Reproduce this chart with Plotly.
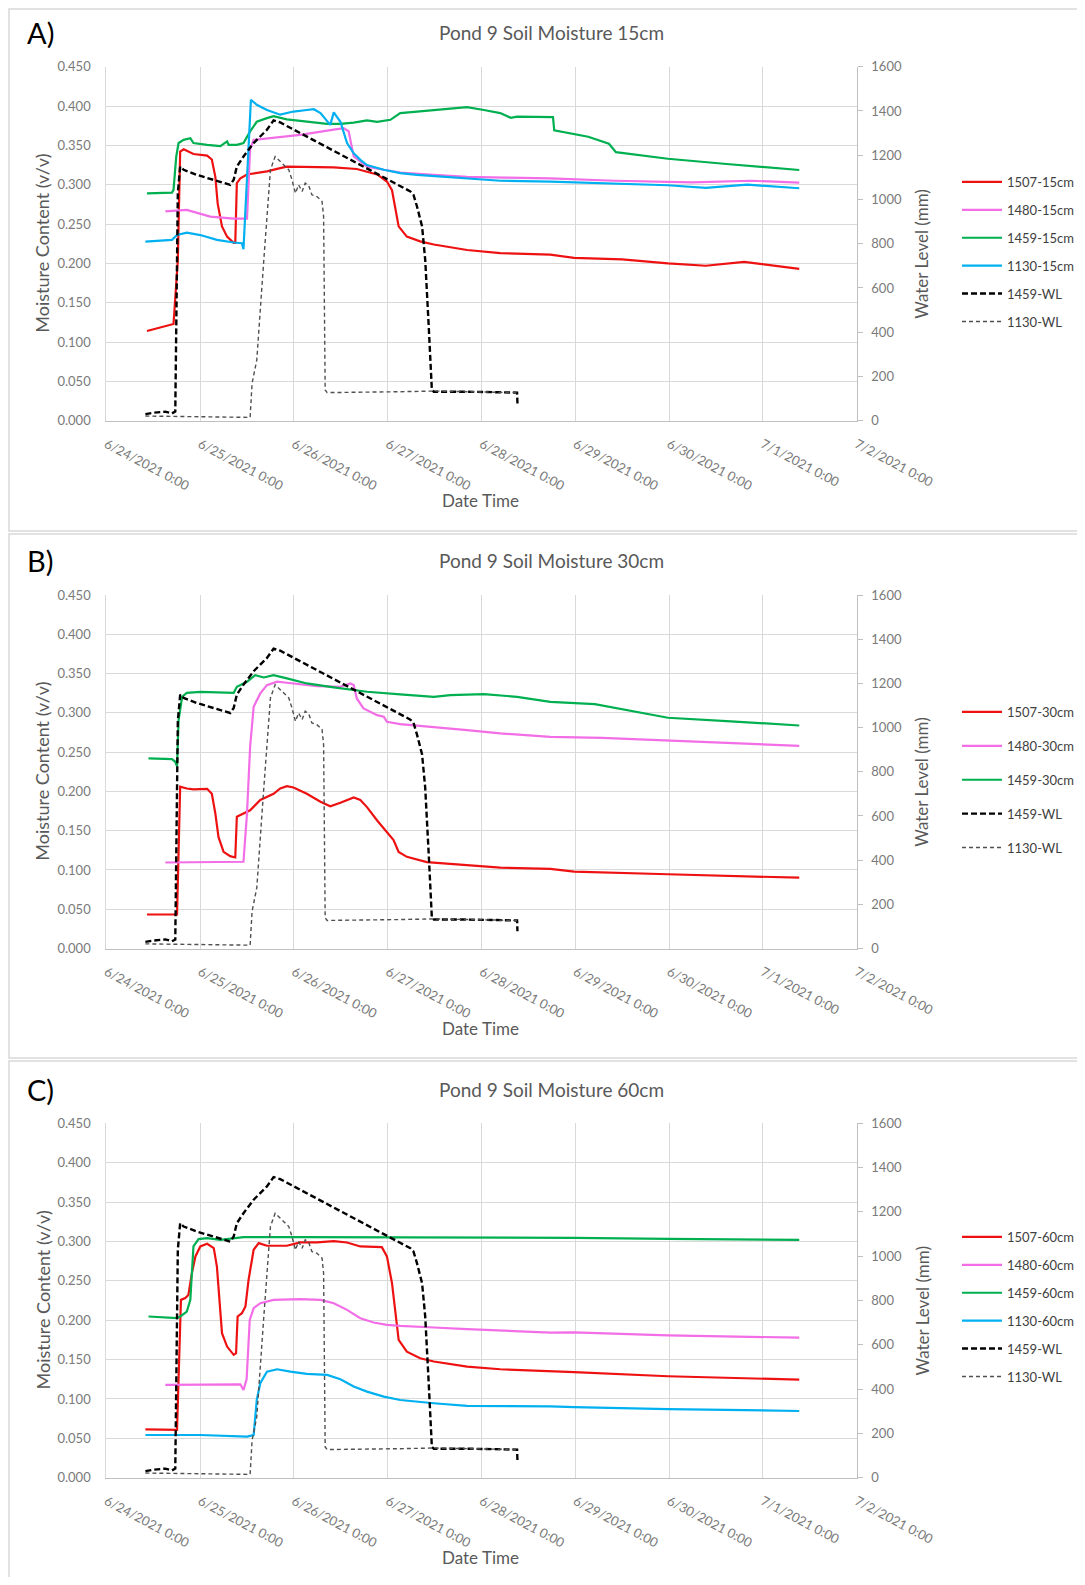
import pandas as pd
import plotly.graph_objects as go

# ---------------- data (hours since 6/24/2021 0:00, values) ----------------
START = pd.Timestamp("2021-06-24 00:00")

x_tick_dates = ["2021-06-24", "2021-06-25", "2021-06-26", "2021-06-27", "2021-06-28",
                "2021-06-29", "2021-06-30", "2021-07-01", "2021-07-02"]
x_tick_labels = ["6/24/2021 0:00", "6/25/2021 0:00", "6/26/2021 0:00", "6/27/2021 0:00",
                 "6/28/2021 0:00", "6/29/2021 0:00", "6/30/2021 0:00", "7/1/2021 0:00",
                 "7/2/2021 0:00"]
moist_ticks = [0.0, 0.05, 0.10, 0.15, 0.20, 0.25, 0.30, 0.35, 0.40, 0.45]
wl_ticks = [0, 200, 400, 600, 800, 1000, 1200, 1400, 1600]

# water levels (same in all panels)
wl1459_h = [10.0, 12.1, 15.1, 16.8, 17.65, 17.9, 18.3, 18.9, 19.8, 23.2, 27.5, 31.7, 32.6, 33.4,
            35.1, 37.7, 41.1, 42.8, 44.5, 77.8, 78.6, 79.5, 80.8, 81.6, 82.5, 83.3, 83.8, 92.3,
            105.1, 105.2]
wl1459_v = [30, 36, 41, 33, 41, 576, 1028, 1149, 1134, 1111, 1089, 1066, 1089, 1149,
            1194, 1255, 1315, 1357, 1348, 1036, 1021, 968, 878, 727, 425, 139, 131, 131,
            127, 78]
wl1130_h = [10.0, 24.05, 36.8, 37.3, 38.5, 40.3, 42.0, 43.2, 44.9, 46.7, 47.5, 48.4, 49.2, 50.1,
            50.9, 51.8, 52.6, 53.9, 55.2, 55.6, 56.0, 56.5, 75.2, 83.8, 105.1]
wl1130_v = [21, 18, 15, 169, 274, 727, 1134, 1194, 1164, 1134, 1089, 1028, 1066, 1036,
            1074, 1062, 1021, 1013, 991, 923, 139, 127, 131, 134, 127]

# 15 cm
r15_h = [10.4, 17.2, 18.3, 18.9, 19.8, 22.3, 25.8, 27.0, 27.9, 28.5, 29.6, 30.9, 32.6, 33.0, 33.4,
         34.3, 36.0, 41.1, 44.5, 46.2, 58.2, 64.1, 69.3, 71.8, 73.1, 74.0, 74.8, 76.9, 80.3, 83.8,
         92.3, 100.8, 113.6, 119.7, 132.0, 143.7, 153.4, 163.2, 168.0, 177.3]
r15_v = [0.114, 0.123, 0.204, 0.342, 0.345, 0.339, 0.337, 0.332, 0.310, 0.276, 0.247, 0.234, 0.226,
         0.226, 0.302, 0.308, 0.313, 0.317, 0.321, 0.323, 0.322, 0.320, 0.313, 0.304, 0.293, 0.268,
         0.247, 0.234, 0.228, 0.224, 0.217, 0.213, 0.211, 0.207, 0.205, 0.200, 0.197, 0.202, 0.199,
         0.193]
m15_h = [15.1, 20.6, 26.6, 32.6, 36.0, 36.8, 37.7, 49.6, 58.2, 60.7, 62.0, 63.3, 65.0, 66.7, 71.0,
         75.2, 83.8, 92.3, 102.0, 113.6, 130.0, 149.9, 165.0, 177.3]
m15_v = [0.266, 0.268, 0.2595, 0.257, 0.257, 0.345, 0.357, 0.3634, 0.370, 0.372, 0.368, 0.336,
         0.3295, 0.323, 0.319, 0.3155, 0.3126, 0.310, 0.309, 0.308, 0.305, 0.303, 0.305, 0.3027]
g15_h = [10.4, 16.8, 17.2, 17.9, 18.5, 19.8, 21.5, 22.3, 25.8, 29.2, 30.9, 31.3, 33.4, 35.1, 36.8,
         38.5, 41.1, 42.8, 46.2, 51.3, 56.5, 59.9, 63.3, 66.7, 69.3, 72.7, 75.2, 79.5, 88.0, 92.3,
         96.6, 100.8, 103.5, 105.1, 114.3, 114.6, 123.3, 128.6, 130.4, 143.7, 158.7, 177.3]
g15_v = [0.289, 0.290, 0.2935, 0.336, 0.353, 0.357, 0.359, 0.353, 0.3507, 0.349, 0.355, 0.3507,
         0.3507, 0.353, 0.3677, 0.380, 0.3846, 0.387, 0.383, 0.380, 0.3774, 0.3774, 0.379, 0.3817,
         0.380, 0.3825, 0.391, 0.393, 0.397, 0.3986, 0.395, 0.391, 0.385, 0.3866, 0.386, 0.369,
         0.361, 0.352, 0.3414, 0.333, 0.3263, 0.3187]
b15_h = [10.0, 16.8, 18.1, 20.6, 24.05, 28.3, 32.6, 34.7, 35.1, 37.0, 38.5, 41.1, 44.5, 47.9, 51.3,
         53.1, 54.8, 57.3, 58.2, 59.9, 61.6, 63.3, 65.0, 66.7, 71.0, 75.2, 79.5, 83.8, 92.3, 100.8,
         113.6, 130.0, 143.7, 153.4, 164.0, 177.3]
b15_v = [0.2277, 0.2299, 0.2362, 0.239, 0.236, 0.2299, 0.2265, 0.2256, 0.218, 0.408, 0.4016,
         0.395, 0.389, 0.393, 0.395, 0.396, 0.391, 0.376, 0.392, 0.380, 0.353, 0.340, 0.3316,
         0.325, 0.319, 0.3147, 0.3126, 0.311, 0.308, 0.305, 0.304, 0.301, 0.2993, 0.296, 0.300,
         0.2955]

# 30 cm
r30_h = [10.4, 18.1, 18.9, 20.6, 22.3, 25.8, 27.0, 27.9, 28.7, 30.0, 31.7, 33.0, 33.4, 35.1, 36.8,
         39.4, 41.1, 42.8, 44.5, 46.2, 47.9, 51.3, 54.8, 57.3, 59.9, 63.3, 65.0, 66.7, 69.3, 71.8,
         73.5, 74.8, 76.9, 82.0, 92.3, 100.8, 113.6, 119.7, 143.7, 177.3]
r30_v = [0.0433, 0.0433, 0.2059, 0.2037, 0.2025, 0.2033, 0.197, 0.172, 0.142, 0.123, 0.1176,
         0.1159, 0.1677, 0.172, 0.176, 0.189, 0.193, 0.197, 0.2037, 0.2067, 0.205, 0.197, 0.1868,
         0.181, 0.1855, 0.1923, 0.189, 0.180, 0.163, 0.1486, 0.138, 0.123, 0.1167, 0.110, 0.106,
         0.103, 0.1014, 0.0979, 0.0945, 0.0901]
m30_h = [15.1, 35.1, 36.0, 36.8, 37.7, 39.4, 41.1, 43.7, 46.2, 53.9, 59.9, 62.4, 63.3, 64.1, 65.8,
         69.3, 71.0, 71.8, 75.2, 83.8, 92.3, 100.8, 113.6, 126.9, 149.9, 177.3]
m30_v = [0.1095, 0.1104, 0.172, 0.2568, 0.3077, 0.3247, 0.3353, 0.3396, 0.3383, 0.334, 0.3332,
         0.3374, 0.3353, 0.3183, 0.3056, 0.297, 0.295, 0.2886, 0.2857, 0.2823, 0.278, 0.2738,
         0.2695, 0.268, 0.2636, 0.258]
g30_h = [10.8, 16.8, 17.65, 18.1, 18.5, 19.4, 20.6, 24.05, 32.6, 33.4, 36.0, 38.1, 40.3, 42.8, 46.2,
         51.3, 58.2, 66.7, 75.2, 83.8, 88.0, 96.6, 105.1, 113.6, 125.0, 143.7, 158.7, 177.3]
g30_v = [0.242, 0.241, 0.2377, 0.232, 0.2908, 0.3205, 0.3255, 0.3268, 0.3255, 0.3332, 0.3396,
         0.348, 0.345, 0.348, 0.3438, 0.3374, 0.3323, 0.3268, 0.3234, 0.3204, 0.3226, 0.3238,
         0.3204, 0.314, 0.311, 0.2937, 0.2895, 0.2839]

# 60 cm
r60_h = [10.0, 18.1, 19.1, 20.2, 21.0, 21.9, 22.8, 24.05, 25.8, 27.5, 28.3, 29.0, 29.6, 30.9, 32.6,
         33.2, 33.6, 34.7, 35.6, 36.4, 37.7, 39.0, 41.1, 46.2, 49.6, 53.9, 58.2, 61.6, 65.0, 70.5,
         71.8, 73.1, 74.0, 74.8, 76.9, 80.3, 83.8, 92.3, 100.8, 113.6, 119.7, 143.7, 177.3]
r60_v = [0.0614, 0.0606, 0.2258, 0.228, 0.232, 0.2597, 0.281, 0.2936, 0.297, 0.2915, 0.268,
         0.2258, 0.1835, 0.1665, 0.156, 0.158, 0.2047, 0.2089, 0.2174, 0.2513, 0.2894, 0.2979,
         0.2945, 0.2945, 0.2987, 0.2987, 0.3004, 0.2987, 0.2936, 0.2928, 0.281, 0.247, 0.2047,
         0.175, 0.160, 0.1517, 0.1475, 0.1411, 0.1377, 0.1347, 0.134, 0.1288, 0.1245]
m60_h = [15.1, 34.3, 35.1, 35.9, 36.7, 37.7, 39.4, 42.8, 49.6, 54.8, 58.2, 61.6, 65.0, 68.4, 71.8,
         75.2, 83.8, 92.3, 113.6, 119.7, 143.7, 177.3]
m60_v = [0.1178, 0.1186, 0.1114, 0.125, 0.2004, 0.2153, 0.2216, 0.2258, 0.2267, 0.2258, 0.2216,
         0.2131, 0.2025, 0.197, 0.194, 0.1928, 0.1907, 0.1886, 0.1843, 0.1844, 0.1808, 0.1778]
g60_h = [10.8, 18.1, 19.0, 20.6, 21.5, 22.3, 23.6, 25.8, 29.2, 31.3, 35.1, 49.6, 113.6, 119.7,
         143.7, 177.3]
g60_v = [0.2047, 0.2025, 0.205, 0.211, 0.2258, 0.2936, 0.303, 0.3042, 0.3021, 0.303, 0.3055,
         0.3055, 0.3055, 0.3046, 0.3032, 0.302]
b60_h = [10.0, 24.05, 36.0, 37.7, 38.5, 39.4, 41.1, 43.7, 47.1, 51.3, 56.5, 59.9, 63.3, 66.7, 71.0,
         75.2, 83.8, 92.3, 113.6, 119.7, 143.7, 177.3]
b60_v = [0.0542, 0.0542, 0.0521, 0.0542, 0.0987, 0.12, 0.1347, 0.1377, 0.1347, 0.1318, 0.1305,
         0.125, 0.1157, 0.1093, 0.103, 0.0987, 0.0945, 0.0911, 0.0905, 0.0895, 0.0872, 0.0847]

# ---------------- styling / layout ----------------
RED, PINK, GREEN, BLUE = "#ee1111", "#f26de6", "#00b050", "#00b0f0"
FONT = "Lato"
OFF = 8                      # page body margin
W, H = 1085 - 2 * OFF, 1585 - 2 * OFF
PL, PR = 106.3, 856.7
panels = [
    dict(label="A)", title="Pond 9 Soil Moisture 15cm", top=66.7, bottom=420.7, lab_y=33,
         xt_y=500, legend_top=167, gap=8,
         series=[("1507-15cm", r15_h, r15_v, RED), ("1480-15cm", m15_h, m15_v, PINK),
                 ("1459-15cm", g15_h, g15_v, GREEN), ("1130-15cm", b15_h, b15_v, BLUE)]),
    dict(label="B)", title="Pond 9 Soil Moisture 30cm", top=595.0, bottom=948.5, lab_y=560,
         xt_y=1028, legend_top=697, gap=14,
         series=[("1507-30cm", r30_h, r30_v, RED), ("1480-30cm", m30_h, m30_v, PINK),
                 ("1459-30cm", g30_h, g30_v, GREEN)]),
    dict(label="C)", title="Pond 9 Soil Moisture 60cm", top=1123.3, bottom=1477.7, lab_y=1089,
         xt_y=1557, legend_top=1222, gap=8,
         series=[("1507-60cm", r60_h, r60_v, RED), ("1480-60cm", m60_h, m60_v, PINK),
                 ("1459-60cm", g60_h, g60_v, GREEN), ("1130-60cm", b60_h, b60_v, BLUE)]),
]


def px(x):
    return (x - OFF) / W


def py(y):
    return 1 - (y - OFF) / H


def times(hours):
    return [START + pd.Timedelta(hours=h) for h in hours]


def nm(kind, n):
    return kind if n == 1 else f"{kind}{n}"


tickfont = dict(family=FONT, size=13, color="#7a7a7a")
fig = go.Figure()
layout = dict(width=W, height=H, autosize=False,
              margin=dict(l=0, r=0, t=0, b=0, pad=0, autoexpand=False),
              paper_bgcolor="white", plot_bgcolor="white", showlegend=True)
annotations = []
shapes = []
borders = [(9, 531), (534, 1058), (1061, 1600)]

for i, p in enumerate(panels):
    xn, yl, yr = i + 1, 2 * i + 1, 2 * i + 2
    lg = nm("legend", i + 1)
    xref, ylref, yrref = nm("x", xn), nm("y", yl), nm("y", yr)
    for j, (name, hh, vv, col) in enumerate(p["series"]):
        fig.add_trace(go.Scatter(x=times(hh), y=vv, name=name, mode="lines",
                                 line=dict(color=col, width=2.2), xaxis=xref, yaxis=ylref,
                                 legend=lg, legendgroup=f"{i}-{j}"))
    fig.add_trace(go.Scatter(x=times(wl1459_h), y=wl1459_v, name="1459-WL", mode="lines",
                             line=dict(color="#000000", width=2.4, dash="6px,3px"),
                             xaxis=xref, yaxis=yrref, legend=lg, legendgroup=f"{i}-wl1"))
    fig.add_trace(go.Scatter(x=times(wl1130_h), y=wl1130_v, name="1130-WL", mode="lines",
                             line=dict(color="#505050", width=1.4, dash="4px,3px"),
                             xaxis=xref, yaxis=yrref, legend=lg, legendgroup=f"{i}-wl2"))

    dom_y = [py(p["bottom"]), py(p["top"])]
    layout[nm("xaxis", xn)] = dict(
        domain=[px(PL), px(PR)], anchor=ylref, type="date", automargin=False,
        range=[x_tick_dates[0], x_tick_dates[-1]],
        tickmode="array", tickvals=x_tick_dates, ticktext=x_tick_labels, tickangle=28,
        showgrid=True, gridcolor="#d9d9d9", gridwidth=1, showline=True, linecolor="#bfbfbf",
        linewidth=1.3, ticks="", tickfont=tickfont, ticklabelstandoff=10, zeroline=False)
    layout[nm("yaxis", yl)] = dict(
        domain=dom_y, anchor=xref, range=[0, 0.45], tickmode="array", tickvals=moist_ticks,
        tickformat=".3f", showgrid=True, gridcolor="#d9d9d9", gridwidth=1, showline=True,
        linecolor="#d9d9d9", ticks="", tickfont=tickfont, ticklabelstandoff=12, zeroline=False,
        automargin=False)
    layout[nm("yaxis", yr)] = dict(
        domain=dom_y, anchor=xref, overlaying=ylref, side="right", range=[0, 1600],
        tickmode="array", tickvals=wl_ticks, showgrid=False, showline=True, linecolor="#bfbfbf",
        ticks="outside", ticklen=5, tickcolor="#bfbfbf", tickfont=tickfont,
        ticklabelstandoff=6, zeroline=False, automargin=False)
    layout[lg] = dict(x=px(957), y=py(p["legend_top"]), xanchor="left", yanchor="top",
                      bgcolor="rgba(0,0,0,0)", traceorder="grouped", tracegroupgap=p["gap"],
                      font=dict(family=FONT, size=13, color="#404040"), itemwidth=40)

    cy = (p["top"] + p["bottom"]) / 2
    annotations += [
        dict(text=p["label"], x=px(40), y=py(p["lab_y"]), xref="paper", yref="paper",
             showarrow=False, xanchor="center", yanchor="middle",
             font=dict(family=FONT, size=29, color="#000000")),
        dict(text=p["title"], x=px(551), y=py(p["lab_y"]), xref="paper", yref="paper",
             showarrow=False, xanchor="center", yanchor="middle",
             font=dict(family=FONT, size=19, color="#595959")),
        dict(text="Moisture Content (v/v)", x=px(42), y=py(cy), xref="paper",
             yref="paper", showarrow=False, textangle=-90, xanchor="center", yanchor="middle",
             font=dict(family=FONT, size=18, color="#595959")),
        dict(text="Water Level (mm)", x=px(922), y=py(cy + 10), xref="paper",
             yref="paper", showarrow=False, textangle=-90, xanchor="center", yanchor="middle",
             font=dict(family=FONT, size=17, color="#595959")),
        dict(text="Date Time", x=px(480), y=py(p["xt_y"]), xref="paper", yref="paper",
             showarrow=False, xanchor="center", yanchor="middle",
             font=dict(family=FONT, size=17, color="#595959")),
    ]
    t0, t1 = borders[i]
    shapes.append(dict(type="rect", xref="paper", yref="paper", x0=px(9), x1=px(1100),
                       y0=py(t1), y1=py(t0), line=dict(color="#d9d9d9", width=1.5),
                       fillcolor="rgba(0,0,0,0)", layer="below"))

layout["annotations"] = annotations
layout["shapes"] = shapes
fig.update_layout(**layout)
fig.write_html("out.html")
